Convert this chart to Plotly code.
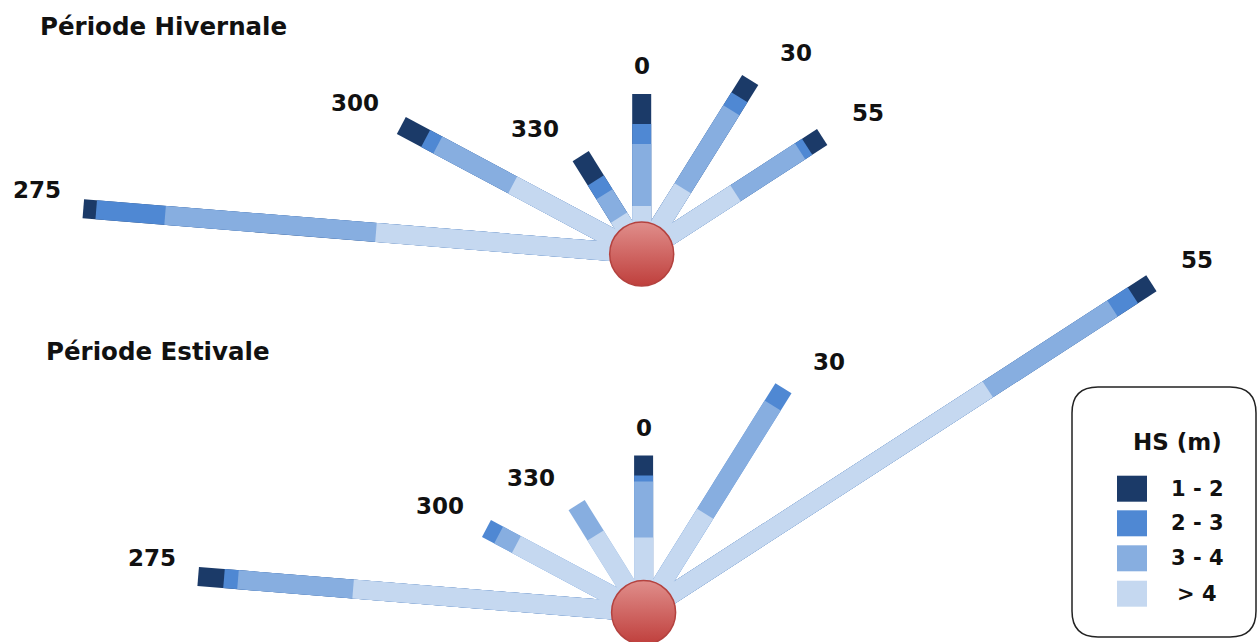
import math
import plotly.graph_objects as go

# ---------------- data ----------------
directions = [275, 300, 330, 0, 30, 55]                 # compass directions (deg)
direction_labels = ["275", "300", "330", "0", "30", "55"]
hs_classes = ["1 - 2", "2 - 3", "3 - 4", "> 4"]        # legend order
hs_colors = ["#1b3a68", "#4f88d3", "#87aee0", "#c5d8f0"]

# Période Hivernale : length of each HS class along each direction (inner -> outer)
hiv_gt4 = [24.7, 13.8, 4.2, 4.8, 7.6, 10.6]
hiv_3_4 = [19.6, 8.0, 2.7, 6.2, 9.0, 7.3]
hiv_2_3 = [6.4, 1.3, 1.6, 2.0, 1.5, 0.8]
hiv_1_2 = [1.2, 2.6, 2.8, 3.0, 2.0, 1.7]

# Période Estivale
est_gt4 = [27.0, 13.6, 8.9, 7.5, 11.4, 38.9]
est_3_4 = [10.7, 1.9, 3.5, 5.6, 12.5, 14.1]
est_2_3 = [1.3, 1.3, 0.0, 0.6, 2.0, 2.3]
est_1_2 = [2.4, 0.0, 0.0, 2.0, 0.0, 2.1]

titles = ["Période Hivernale", "Période Estivale"]
legend_title = "HS (m)"

# ---------------- layout constants ----------------
W, H = 1259, 642
PX_X, PX_Y = 10.8, 10.0           # pixels per unit (x, y)
FONT = "DejaVu Sans"
TXT = "#111111"
BAR_W = 19

fig = go.Figure()


def add_rose(layers, xa, ya, xref, yref):
    # layers: inner -> outer (> 4, 3-4, 2-3, 1-2)
    n = len(directions)
    cum, run = [], [0.0] * n
    for arr in layers:
        run = [run[i] + arr[i] for i in range(n)]
        cum.append(run)
    cols = hs_colors[::-1]
    names = hs_classes[::-1]
    for k in reversed(range(len(layers))):
        xs, ys = [], []
        for i, d in enumerate(directions):
            if layers[k][i] <= 0:
                continue
            t = math.radians(d)
            r = cum[k][i]
            xs += [0, r * math.sin(t), None]
            ys += [0, r * math.cos(t), None]
        fig.add_trace(go.Scatter(
            x=xs, y=ys, mode="lines", name=names[k],
            line=dict(color=cols[k], width=BAR_W),
            xaxis=xa, yaxis=ya, showlegend=False, hoverinfo="skip"))
    # central circle
    fig.add_trace(go.Scatter(
        x=[0], y=[0], mode="markers", xaxis=xa, yaxis=ya,
        marker=dict(size=64, color="#e08e8b",
                    gradient=dict(type="vertical", color="#bf3f3c"),
                    line=dict(color="#b4423f", width=1.5)),
        showlegend=False, hoverinfo="skip"))
    # direction labels
    total = cum[-1]
    for i, d in enumerate(directions):
        t = math.radians(d)
        s, c = math.sin(t), math.cos(t)
        sign = 0 if abs(s) < 1e-6 else (1 if s > 0 else -1)
        fig.add_annotation(
            x=total[i] * s, y=total[i] * c, xref=xref, yref=yref,
            xanchor="center", yanchor="middle",
            text="<b>%s</b>" % direction_labels[i], showarrow=False,
            xshift=46 * sign, yshift=18 + 10 * abs(c),
            font=dict(family=FONT, size=23, color=TXT))


add_rose([hiv_gt4, hiv_3_4, hiv_2_3, hiv_1_2], "x", "y", "x", "y")
add_rose([est_gt4, est_3_4, est_2_3, est_1_2], "x2", "y2", "x2", "y2")


def axis_ranges(cx, cy):
    xr = [-cx / PX_X, (W - cx) / PX_X]
    yr = [-(H - cy) / PX_Y, cy / PX_Y]
    return xr, yr


xr1, yr1 = axis_ranges(641.7, 254.0)
xr2, yr2 = axis_ranges(643.6, 612.5)
hidden = dict(visible=False, fixedrange=True, showgrid=False, zeroline=False)

fig.update_layout(
    width=W, height=H,
    margin=dict(l=0, r=0, t=0, b=0),
    paper_bgcolor="white", plot_bgcolor="rgba(0,0,0,0)",
    xaxis=dict(domain=[0, 1], range=xr1, anchor="y", **hidden),
    yaxis=dict(domain=[0, 1], range=yr1, anchor="x", **hidden),
    xaxis2=dict(domain=[0, 1], range=xr2, anchor="y2", **hidden),
    yaxis2=dict(domain=[0, 1], range=yr2, anchor="x2", **hidden),
    showlegend=False,
)


def px(x):
    return x / W


def py(y):
    return 1 - y / H


def text_at(x, y, txt, size, xanchor="center"):
    fig.add_annotation(x=px(x), y=py(y), xref="paper", yref="paper",
                       xanchor=xanchor, yanchor="middle", showarrow=False,
                       text="<b>%s</b>" % txt,
                       font=dict(family=FONT, size=size, color=TXT))


# titles
text_at(38, 27, titles[0], 24.5, "left")
text_at(44, 352, titles[1], 24.5, "left")

# legend box (rounded)
x0, x1, y0, y1, rr = 1072, 1256, 387, 637, 26
pts = [("M", x0 + rr, y0), ("L", x1 - rr, y0), ("Q", x1, y0, x1, y0 + rr),
       ("L", x1, y1 - rr), ("Q", x1, y1, x1 - rr, y1), ("L", x0 + rr, y1),
       ("Q", x0, y1, x0, y1 - rr), ("L", x0, y0 + rr), ("Q", x0, y0, x0 + rr, y0)]
path = ""
for p in pts:
    cmd, coords = p[0], p[1:]
    pairs = []
    for j in range(0, len(coords), 2):
        pairs.append("%.5f,%.5f" % (px(coords[j]), py(coords[j + 1])))
    path += cmd + " " + " ".join(pairs) + " "
path += "Z"
fig.add_shape(type="path", path=path, xref="paper", yref="paper",
              line=dict(color="#222222", width=1.5), fillcolor="white")

text_at(1177, 442, legend_title, 23)
row_y = [488.7, 523.3, 558.3, 593.7]
for k, name in enumerate(hs_classes):
    cy = row_y[k]
    fig.add_shape(type="rect", xref="paper", yref="paper",
                  x0=px(1117), x1=px(1147), y0=py(cy - 13), y1=py(cy + 13),
                  line=dict(width=0), fillcolor=hs_colors[k])
    text_at(1197, cy, name, 21)

fig.write_html("out.html",
               config={"displayModeBar": False},
               post_script="document.body.style.margin='0';document.body.style.overflow='hidden';")
